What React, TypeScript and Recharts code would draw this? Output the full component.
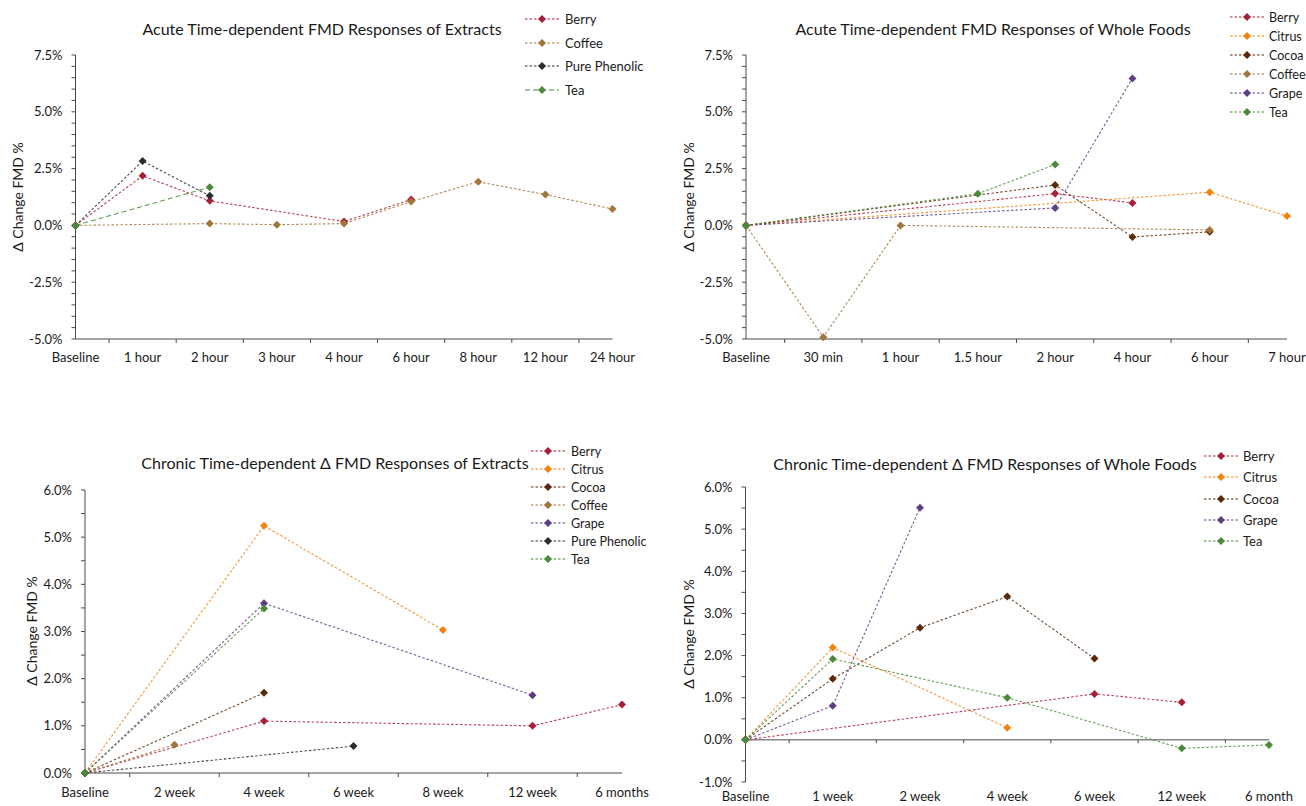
import React from "react";
import { LineChart, Line, XAxis, YAxis, ReferenceLine } from "recharts";

const FONT = "Lato, 'Open Sans', sans-serif";
const AXIS = "#4a4a4a";
const DOTTED = "2.5 2";

const COLORS: Record<string, string> = {
  Berry: "#A81F3A",
  Citrus: "#F2830F",
  Cocoa: "#5A2B0B",
  Coffee: "#A0763A",
  Grape: "#5E3E84",
  "Pure Phenolic": "#2C2C2C",
  Tea: "#4A8A3A",
};

// Acute - extracts
const ACUTE_EXTRACT_TIMES = ["Baseline", "1 hour", "2 hour", "3 hour", "4 hour", "6 hour", "8 hour", "12 hour", "24 hour"];
const ACUTE_EXTRACT_BERRY = [0, 2.18, 1.08, null, 0.17, 1.14, null, null, null];
const ACUTE_EXTRACT_COFFEE = [0, null, 0.08, 0.03, 0.08, 1.05, 1.92, 1.36, 0.72];
const ACUTE_EXTRACT_PHENOLIC = [0, 2.83, 1.3, null, null, null, null, null, null];
const ACUTE_EXTRACT_TEA = [0, null, 1.68, null, null, null, null, null, null];

// Acute - whole foods
const ACUTE_FOOD_TIMES = ["Baseline", "30 min", "1 hour", "1.5 hour", "2 hour", "4 hour", "6 hour", "7 hour"];
const ACUTE_FOOD_BERRY = [0, null, null, null, 1.4, 0.99, null, null];
const ACUTE_FOOD_CITRUS = [0, null, null, null, null, null, 1.46, 0.41];
const ACUTE_FOOD_COCOA = [0, null, null, null, 1.78, -0.51, -0.28, null];
const ACUTE_FOOD_COFFEE = [0, -4.92, 0, null, null, null, -0.2, null];
const ACUTE_FOOD_GRAPE = [0, null, null, null, 0.77, 6.47, null, null];
const ACUTE_FOOD_TEA = [0, null, null, 1.39, 2.68, null, null, null];

// Chronic - extracts
const CHRONIC_EXTRACT_TIMES = ["Baseline", "2 week", "4 week", "6 week", "8 week", "12 week", "6 months"];
const CHRONIC_EXTRACT_BERRY = [0, null, 1.1, null, null, 1.0, 1.45];
const CHRONIC_EXTRACT_CITRUS = [0, null, 5.24, null, 3.03, null, null];
const CHRONIC_EXTRACT_COCOA = [0, null, 1.7, null, null, null, null];
const CHRONIC_EXTRACT_COFFEE = [0, 0.6, null, null, null, null, null];
const CHRONIC_EXTRACT_GRAPE = [0, null, 3.6, null, null, 1.65, null];
const CHRONIC_EXTRACT_PHENOLIC = [0, null, null, 0.57, null, null, null];
const CHRONIC_EXTRACT_TEA = [0, null, 3.49, null, null, null, null];

// Chronic - whole foods
const CHRONIC_FOOD_TIMES = ["Baseline", "1 week", "2 week", "4 week", "6 week", "12 week", "6 month"];
const CHRONIC_FOOD_BERRY = [0, null, null, null, 1.09, 0.89, null];
const CHRONIC_FOOD_CITRUS = [0, 2.19, null, 0.29, null, null, null];
const CHRONIC_FOOD_COCOA = [0, 1.45, 2.66, 3.4, 1.93, null, null];
const CHRONIC_FOOD_GRAPE = [0, 0.81, 5.51, null, null, null, null];
const CHRONIC_FOOD_TEA = [0, 1.92, null, 1.0, null, -0.2, -0.12];

type Series = { name: string; values: (number | null)[]; dash?: string };

const range = (min: number, max: number, step: number) => {
  const out: number[] = [];
  const n = Math.round((max - min) / step);
  for (let i = 0; i <= n; i++) out.push(Math.round((min + i * step) * 100) / 100);
  return out;
};

const buildRows = (times: string[], series: Series[]) =>
  times.map((t, i) => {
    const row: Record<string, any> = { idx: i, time: t };
    series.forEach((s) => (row[s.name] = s.values[i]));
    return row;
  });

const renderDiamond = (p: any, color: string) => {
  const { cx, cy, index } = p;
  if (cx == null || cy == null || Number.isNaN(cy)) return <g key={`n-${index}`} />;
  const r = 4;
  return (
    <path
      key={`d-${index}`}
      d={`M${cx},${cy - r}L${cx + r},${cy}L${cx},${cy + r}L${cx - r},${cy}Z`}
      fill={color}
    />
  );
};

const XTick = (props: any) => {
  const { x, y, payload, labels, markTicks, gap } = props;
  const v = payload.value;
  if (Number.isInteger(v)) {
    return (
      <text x={x} y={y} dy="0.71em" textAnchor="middle" fontSize={13} fill="#1a1a1a" fontFamily={FONT}>
        {labels[v]}
      </text>
    );
  }
  if (!markTicks) return <g />;
  return <line x1={x} x2={x} y1={y - gap} y2={y - gap + 4} stroke={AXIS} />;
};

const LegendBox = ({ series, left, top, rowH, fontSize, gap }: any) => (
  <div style={{ position: "absolute", left, top, fontFamily: FONT, fontSize, color: "#1a1a1a" }}>
    {series.map((s: Series) => (
      <div key={s.name} style={{ height: rowH, display: "flex", alignItems: "center", whiteSpace: "nowrap" }}>
        <svg width={34} height={10} style={{ marginRight: gap }}>
          <line x1={0} x2={34} y1={5} y2={5} stroke={COLORS[s.name]} strokeDasharray={s.dash ?? DOTTED} strokeWidth={1.1} />
          <path d="M17,1L21,5L17,9L13,5Z" fill={COLORS[s.name]} />
        </svg>
        <span>{s.name}</span>
      </div>
    ))}
  </div>
);

const Centered = ({ x, y, size, rotate, children }: any) => (
  <div
    style={{
      position: "absolute",
      left: x,
      top: y,
      transform: `translate(-50%, -50%)${rotate ? " rotate(-90deg)" : ""}`,
      whiteSpace: "nowrap",
      fontFamily: FONT,
      fontSize: size,
      color: "#1a1a1a",
    }}
  >
    {children}
  </div>
);

interface PanelProps {
  title: string;
  titleAt: [number, number];
  yTitleAt: [number, number];
  times: string[];
  series: Series[];
  yMin: number;
  yMax: number;
  major: number;
  left: number;
  top: number;
  width: number;
  height: number;
  margin: { top: number; right: number; bottom: number; left: number };
  xGap: number;
  zeroAxis?: boolean;
  legend: { left: number; top: number; rowH: number; fontSize: number; gap: number };
}

const Panel = (p: PanelProps) => {
  const rows = buildRows(p.times, p.series);
  const n = p.times.length;
  const xTicks = range(0, n - 1, 0.5);
  const yTicks = range(p.yMin, p.yMax, 0.5);
  const mids = range(0.5, n - 1.5, 1);
  return (
    <>
      <div style={{ position: "absolute", left: p.left, top: p.top }}>
        <LineChart width={p.width} height={p.height} data={rows} margin={p.margin}>
          <XAxis
            dataKey="idx"
            type="number"
            domain={[0, n - 1]}
            ticks={xTicks}
            interval={0}
            height={30}
            tickSize={0}
            tickMargin={p.xGap}
            axisLine={p.zeroAxis ? false : { stroke: AXIS }}
            tickLine={false}
            tick={<XTick labels={p.times} markTicks={!p.zeroAxis} gap={p.xGap} />}
          />
          <YAxis
            type="number"
            domain={[p.yMin, p.yMax]}
            ticks={yTicks}
            interval={0}
            width={60}
            tickSize={4}
            tickMargin={9}
            axisLine={{ stroke: AXIS }}
            tickLine={{ stroke: AXIS }}
            tick={{ fontSize: 13, fill: "#1a1a1a", fontFamily: FONT }}
            tickFormatter={(v: number) =>
              Math.abs(v / p.major - Math.round(v / p.major)) < 1e-6 ? `${v.toFixed(1)}%` : ""
            }
          />
          {p.zeroAxis && <ReferenceLine y={0} stroke={AXIS} />}
          {p.zeroAxis &&
            mids.map((m) => (
              <ReferenceLine key={m} segment={[{ x: m, y: 0 }, { x: m, y: -0.08 }]} stroke={AXIS} />
            ))}
          {p.series.map((s) => (
            <Line
              key={s.name}
              type="linear"
              dataKey={s.name}
              stroke={COLORS[s.name]}
              strokeOpacity={0.85}
              strokeWidth={1.1}
              strokeDasharray={s.dash ?? DOTTED}
              connectNulls
              dot={(d: any) => renderDiamond(d, COLORS[s.name])}
              activeDot={false}
              isAnimationActive={false}
            />
          ))}
        </LineChart>
      </div>
      <Centered x={p.titleAt[0]} y={p.titleAt[1]} size={16}>
        {p.title}
      </Centered>
      <Centered x={p.yTitleAt[0]} y={p.yTitleAt[1]} size={14} rotate>
        Δ Change FMD %
      </Centered>
      <LegendBox series={p.series} {...p.legend} />
    </>
  );
};

const App = () => (
  <div style={{ position: "absolute", left: 0, top: 0, width: 1306, height: 806, background: "#fff", overflow: "hidden" }}>
    <Panel
      title="Acute Time-dependent FMD Responses of Extracts"
      titleAt={[322, 28]}
      yTitleAt={[17, 197]}
      times={ACUTE_EXTRACT_TIMES}
      series={[
        { name: "Berry", values: ACUTE_EXTRACT_BERRY },
        { name: "Coffee", values: ACUTE_EXTRACT_COFFEE },
        { name: "Pure Phenolic", values: ACUTE_EXTRACT_PHENOLIC },
        { name: "Tea", values: ACUTE_EXTRACT_TEA, dash: "5 3" },
      ]}
      yMin={-5}
      yMax={7.5}
      major={2.5}
      left={0}
      top={0}
      width={653}
      height={390}
      margin={{ top: 55, right: 40.5, bottom: 21, left: 15.5 }}
      xGap={14}
      legend={{ left: 525, top: 7.2, rowH: 23.6, fontSize: 13, gap: 6 }}
    />
    <Panel
      title="Acute Time-dependent FMD Responses of Whole Foods"
      titleAt={[993, 28]}
      yTitleAt={[688, 197]}
      times={ACUTE_FOOD_TIMES}
      series={[
        { name: "Berry", values: ACUTE_FOOD_BERRY },
        { name: "Citrus", values: ACUTE_FOOD_CITRUS },
        { name: "Cocoa", values: ACUTE_FOOD_COCOA },
        { name: "Coffee", values: ACUTE_FOOD_COFFEE },
        { name: "Grape", values: ACUTE_FOOD_GRAPE },
        { name: "Tea", values: ACUTE_FOOD_TEA },
      ]}
      yMin={-5}
      yMax={7.5}
      major={2.5}
      left={653}
      top={0}
      width={653}
      height={390}
      margin={{ top: 55, right: 19, bottom: 21, left: 33 }}
      xGap={14}
      legend={{ left: 1230, top: 7.5, rowH: 19, fontSize: 12.5, gap: 5 }}
    />
    <Panel
      title="Chronic Time-dependent Δ FMD Responses of Extracts"
      titleAt={[335, 462]}
      yTitleAt={[31, 631]}
      times={CHRONIC_EXTRACT_TIMES}
      series={[
        { name: "Berry", values: CHRONIC_EXTRACT_BERRY },
        { name: "Citrus", values: CHRONIC_EXTRACT_CITRUS },
        { name: "Cocoa", values: CHRONIC_EXTRACT_COCOA },
        { name: "Coffee", values: CHRONIC_EXTRACT_COFFEE },
        { name: "Grape", values: CHRONIC_EXTRACT_GRAPE },
        { name: "Pure Phenolic", values: CHRONIC_EXTRACT_PHENOLIC },
        { name: "Tea", values: CHRONIC_EXTRACT_TEA },
      ]}
      yMin={0}
      yMax={6}
      major={1}
      left={0}
      top={430}
      width={653}
      height={376}
      margin={{ top: 60, right: 31, bottom: 3, left: 25 }}
      xGap={14.5}
      legend={{ left: 531, top: 442, rowH: 18, fontSize: 12.5, gap: 6 }}
    />
    <Panel
      title="Chronic Time-dependent Δ FMD Responses of Whole Foods"
      titleAt={[985, 463]}
      yTitleAt={[688, 634]}
      times={CHRONIC_FOOD_TIMES}
      series={[
        { name: "Berry", values: CHRONIC_FOOD_BERRY },
        { name: "Citrus", values: CHRONIC_FOOD_CITRUS },
        { name: "Cocoa", values: CHRONIC_FOOD_COCOA },
        { name: "Grape", values: CHRONIC_FOOD_GRAPE },
        { name: "Tea", values: CHRONIC_FOOD_TEA },
      ]}
      yMin={-1}
      yMax={6}
      major={1}
      left={653}
      top={430}
      width={653}
      height={376}
      margin={{ top: 57, right: 37, bottom: -6, left: 32.5 }}
      xGap={10}
      zeroAxis
      legend={{ left: 1204, top: 445.4, rowH: 21.3, fontSize: 13, gap: 5 }}
    />
  </div>
);

export default App;
